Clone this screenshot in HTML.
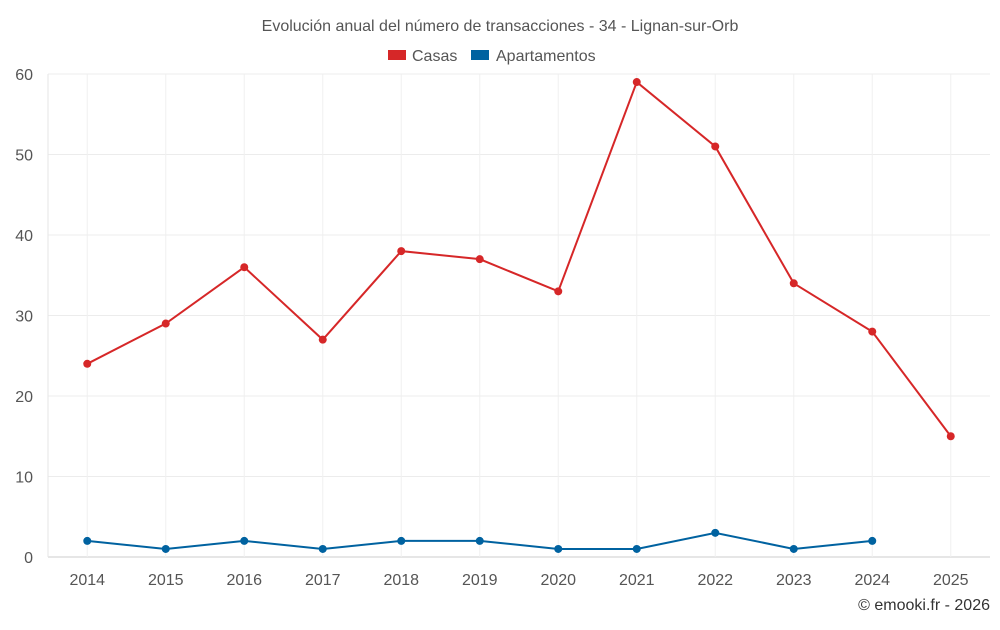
<!DOCTYPE html>
<html><head><meta charset="utf-8"><style>
body{margin:0;background:#fff;font-family:"Liberation Sans",sans-serif;}
svg text{font-family:"Liberation Sans",sans-serif;}
</style></head><body>
<svg id="c" width="1000" height="625">
<text x="500" y="31" text-anchor="middle" font-size="16" fill="#555">Evolución anual del número de transacciones - 34 - Lignan-sur-Orb</text>
<g>
<g><rect x="388" y="50" width="18" height="10" fill="#d62728"/><text x="412" y="61" font-size="16" fill="#555">Casas</text></g>
<g><rect x="471" y="50" width="18" height="10" fill="#0062a0"/><text x="496" y="61" font-size="16" fill="#555">Apartamentos</text></g>
</g>
<g id="grid"></g><g id="series"></g>
<text x="990" y="610" text-anchor="end" font-size="16" fill="#333">© emooki.fr - 2026</text>
</svg>
<script>
const years=["2014","2015","2016","2017","2018","2019","2020","2021","2022","2023","2024","2025"];
const casas=[24,29,36,27,38,37,33,59,51,34,28,15];
const apartamentos=[2,1,2,1,2,2,1,1,3,1,2,null];
const yTicks=[0,10,20,30,40,50,60];
const L=48,R=990,T=74,B=557,ymax=60;
const NS="http://www.w3.org/2000/svg";
const bw=(R-L)/years.length;
const x=i=>L+bw*(i+0.5);
const y=v=>B-(B-T)*v/ymax;
const g=document.getElementById('grid'),s=document.getElementById('series');
function mk(tag,a,p){const e=document.createElementNS(NS,tag);for(const k in a)e.setAttribute(k,a[k]);p.appendChild(e);return e;}
yTicks.forEach(t=>{
 const l=mk('line',{x1:L,x2:R,y1:y(t),y2:y(t),stroke:t===0?'#ccc':'#ececec'},g);
 
 
 const tx=mk('text',{x:33,y:y(t)+6,'text-anchor':'end','font-size':16,fill:'#555'},g);tx.textContent=t;
 
 
});
years.forEach((yr,i)=>{
 const l=mk('line',{x1:x(i),x2:x(i),y1:T,y2:B,stroke:'#f0f0f0'},g);
 
 
 const tx=mk('text',{x:x(i),y:585,'text-anchor':'middle','font-size':16,fill:'#555'},g);tx.textContent=yr;
 
 
});
mk('line',{x1:L,x2:L,y1:T,y2:B,stroke:'#e6e6e6'},g);
function draw(vals,col,name){
 let d='';vals.forEach((v,i)=>{if(v==null)return;d+=(d?'L':'M')+x(i)+' '+y(v);});
 const p=mk('path',{d:d,fill:'none',stroke:col,'stroke-width':2},s);
 
 
 vals.forEach((v,i)=>{if(v==null)return;
  const c=mk('circle',{cx:x(i),cy:y(v),r:4,fill:col},s);
  
  
 });
}
draw(casas,'#d62728','casas');
draw(apartamentos,'#0062a0','apartamentos');
</script>
</body></html>
